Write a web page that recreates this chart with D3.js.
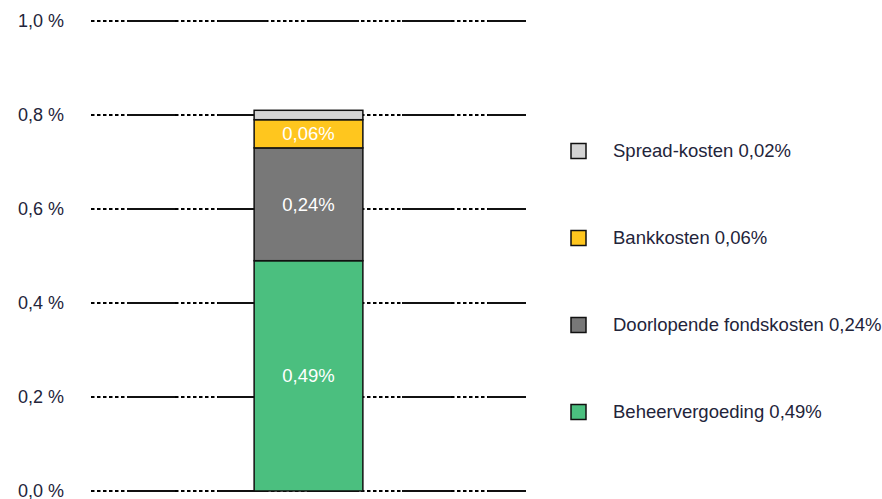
<!DOCTYPE html>
<html>
<head>
<meta charset="utf-8">
<script src="https://cdn.jsdelivr.net/npm/d3@7"></script>
<style>
  body { margin: 0; background: #fff; }
  svg { display: block; font-family: "Liberation Sans", Arial, sans-serif; }
</style>
</head>
<body>
<div id="chart"></div>
<script>
// data
const categories = ["fonds"];
const seriesNames = ["Beheervergoeding", "Doorlopende fondskosten", "Bankkosten", "Spread-kosten"];
const seriesValues = [0.49, 0.24, 0.06, 0.02];
const seriesColors = ["#4bbf7f", "#787878", "#ffc61e", "#d4d4d4"];
const tickValues = [0, 0.2, 0.4, 0.6, 0.8, 1.0];
const showLabel = [true, true, true, false];

const W = 882, H = 499;
const fmt = v => v.toFixed(2).replace(".", ",") + "%";
const fmtTick = v => v.toFixed(1).replace(".", ",") + " %";

const svg = d3.select("#chart").append("svg")
    .attr("width", W).attr("height", H);

const x = d3.scaleBand().domain(categories).range([91, 526]).padding(0.6);
const y = d3.scaleLinear().domain([0, 1]).range([491, 21]);

// grid lines: dotted underneath, solid pieces on top
const grid = svg.append("g");
tickValues.forEach(t => {
    grid.append("line")
        .attr("x1", 91).attr("x2", 526)
        .attr("y1", y(t)).attr("y2", y(t))
        .attr("stroke", "#000").attr("stroke-width", 2)
        .attr("stroke-dasharray", "3.5 2.5");
    grid.append("line")
        .attr("x1", 91).attr("x2", 526)
        .attr("y1", y(t)).attr("y2", y(t))
        .attr("stroke", "#111").attr("stroke-width", 2)
        .attr("stroke-dasharray", "0 36 48 43 49 43 49 43 49 37 38");
});

// y axis labels
svg.append("g").selectAll("text")
    .data(tickValues)
    .join("text")
    .attr("x", 64)
    .attr("y", d => y(d))
    .attr("dy", "0.33em")
    .attr("text-anchor", "end")
    .attr("font-size", 18)
    .attr("fill", "#23243a")
    .text(fmtTick);

// stack
const row = { cat: categories[0] };
seriesNames.forEach((n, i) => row[n] = seriesValues[i]);
const stacked = d3.stack().keys(seriesNames)([row]);

const bars = svg.append("g");
stacked.forEach((s, i) => {
    const d = s[0];
    bars.append("rect")
        .attr("x", x(d.data.cat))
        .attr("width", x.bandwidth())
        .attr("y", y(d[1]))
        .attr("height", y(d[0]) - y(d[1]))
        .attr("fill", seriesColors[i])
        .attr("stroke", "#111")
        .attr("stroke-width", 1.5);
    if (showLabel[i]) {
        bars.append("text")
            .attr("x", x(d.data.cat) + x.bandwidth() / 2)
            .attr("y", (y(d[0]) + y(d[1])) / 2)
            .attr("dy", "0.35em")
            .attr("text-anchor", "middle")
            .attr("font-size", 18.5)
            .attr("fill", "#fff")
            .text(fmt(seriesValues[i]));
    }
});

// legend (top to bottom = reversed stack)
const legendY = d3.scalePoint()
    .domain(seriesNames.slice().reverse())
    .range([151, 412]);
const legend = svg.append("g");
seriesNames.forEach((n, i) => {
    const g = legend.append("g")
        .attr("transform", `translate(571, ${legendY(n)})`);
    g.append("rect")
        .attr("x", 0).attr("y", -7.5)
        .attr("width", 15).attr("height", 15)
        .attr("fill", seriesColors[i])
        .attr("stroke", "#111").attr("stroke-width", 1.5);
    g.append("text")
        .attr("x", 42).attr("y", 0)
        .attr("dy", "0.35em")
        .attr("font-size", 18.5)
        .attr("fill", "#23243a")
        .text(`${n} ${fmt(seriesValues[i])}`);
});
</script>
</body>
</html>
